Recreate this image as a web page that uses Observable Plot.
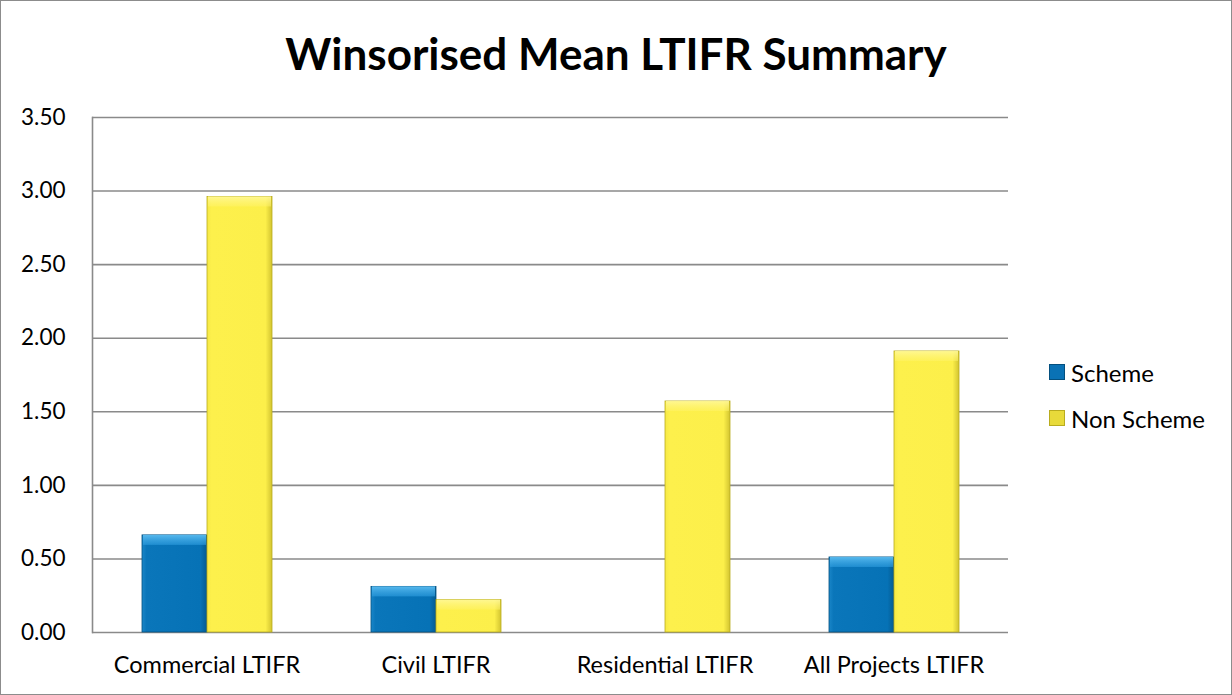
<!DOCTYPE html>
<html>
<head>
<meta charset="utf-8">
<script src="https://cdn.jsdelivr.net/npm/d3@7"></script>
<script src="https://cdn.jsdelivr.net/npm/@observablehq/plot@0.6"></script>
<style>
  html, body { margin: 0; padding: 0; background: #fff; }
  #wrap { position: relative; width: 1232px; height: 695px; overflow: hidden; font-family: Lato, "Open Sans", sans-serif; }
  #border { position: absolute; left: 0; top: 0; width: 1232px; height: 695px; box-sizing: border-box; border: 1px solid #8c8c8c; pointer-events: none; }
  #title { height: 95px; display: flex; align-items: center; justify-content: center; font-weight: 700; font-size: 44px; color: #000; padding-top: 10px; box-sizing: border-box; }
  #legend { position: absolute; left: 1049px; top: 357px; font-size: 24px; color: #000; }
  .li { display: flex; align-items: center; height: 30px; margin-bottom: 16px; }
  .sw { width: 16px; height: 16px; margin-right: 6px; box-sizing: border-box; }
</style>
</head>
<body>
<div id="wrap">
  <div id="title">Winsorised Mean LTIFR Summary</div>
  <div id="chart"></div>
  <div id="legend"></div>
  <div id="border"></div>
</div>
<script>
const categories = ["Commercial LTIFR", "Civil LTIFR", "Residential LTIFR", "All Projects LTIFR"];
const series = ["Scheme", "Non Scheme"];
const schemeValues = [0.66, 0.31, 0, 0.51];
const nonSchemeValues = [2.96, 0.22, 1.57, 1.91];
const yTicks = [0, 0.5, 1, 1.5, 2, 2.5, 3, 3.5];
const fills = ["url(#gBlue)", "url(#gYellow)"];
const topFills = ["url(#gBlueTop)", "url(#gYellowTop)"];
const edgeColors = ["#04507f", "#b9ac1e"];
const swatchColors = ["#0a72b5", "#e8da3a"];

const data = [];
categories.forEach((c, i) => {
  data.push({category: c, series: "Scheme", value: schemeValues[i]});
  data.push({category: c, series: "Non Scheme", value: nonSchemeValues[i]});
});
const shown = data.filter(d => d.value > 0);

const chart = Plot.plot({
  width: 1232,
  height: 600,
  marginTop: 22,
  marginBottom: 63,
  marginLeft: 92,
  marginRight: 224,
  style: {fontFamily: "Lato, 'Open Sans', sans-serif", background: "transparent"},
  fx: {domain: categories, padding: 0, label: null, axis: null},
  x: {domain: series, paddingInner: 0, paddingOuter: 0.76, axis: null},
  y: {domain: [0, 3.5], ticks: yTicks, tickFormat: d3.format(".2f"), label: null},
  color: {domain: series, range: fills, type: "ordinal"},
  marks: [
    Plot.gridY(yTicks, {stroke: "#8a8a8a", strokeOpacity: 1, strokeWidth: 1.6}),
    Plot.frame({anchor: "left", facetAnchor: "left", stroke: "#8a8a8a", strokeWidth: 1.6}),
    Plot.axisY(yTicks, {tickSize: 0, tickPadding: 27, fontSize: 22.5, fill: "#000", tickFormat: d3.format(".2f"), label: null}),
    Plot.axisFx({anchor: "bottom", tickSize: 0, tickPadding: 24, fontSize: 23.5, fill: "#000", label: null}),
    Plot.barY(shown, {fx: "category", x: "series", y: "value", fill: "series", stroke: d => edgeColors[series.indexOf(d.series)], strokeWidth: 0.8}),
    Plot.barY(shown, {fx: "category", x: "series", y1: "value", y2: "value", insetBottom: -10, insetLeft: 1, insetRight: 1, fill: d => topFills[series.indexOf(d.series)]})
  ]
});

const svg = chart.tagName.toLowerCase() === "svg" ? chart : chart.querySelector("svg");
svg.insertAdjacentHTML("afterbegin", `
<defs>
  <linearGradient id="gBlue" x1="0" x2="1" y1="0" y2="0">
    <stop offset="0" stop-color="#1a86c8"/>
    <stop offset="0.07" stop-color="#0a76ba"/>
    <stop offset="0.9" stop-color="#0672b6"/>
    <stop offset="1" stop-color="#045a90"/>
  </linearGradient>
  <linearGradient id="gYellow" x1="0" x2="1" y1="0" y2="0">
    <stop offset="0" stop-color="#f6e946"/>
    <stop offset="0.07" stop-color="#fdf04c"/>
    <stop offset="0.9" stop-color="#fcef4a"/>
    <stop offset="1" stop-color="#d2c430"/>
  </linearGradient>
  <linearGradient id="gBlueTop" x1="0" x2="0" y1="0" y2="1">
    <stop offset="0" stop-color="#5bbcf0" stop-opacity="0.95"/>
    <stop offset="1" stop-color="#2f9ee0" stop-opacity="0.6"/>
  </linearGradient>
  <linearGradient id="gYellowTop" x1="0" x2="0" y1="0" y2="1">
    <stop offset="0" stop-color="#fff89a" stop-opacity="0.9"/>
    <stop offset="1" stop-color="#fff36a" stop-opacity="0.5"/>
  </linearGradient>
</defs>`);
document.getElementById("chart").appendChild(chart);

const legend = document.getElementById("legend");
series.forEach((s, i) => {
  const row = document.createElement("div");
  row.className = "li";
  const sw = document.createElement("div");
  sw.className = "sw";
  sw.style.background = swatchColors[i];
  sw.style.border = "1px solid " + edgeColors[i];
  const t = document.createElement("span");
  t.textContent = s;
  row.appendChild(sw); row.appendChild(t);
  legend.appendChild(row);
});
</script>
</body>
</html>
